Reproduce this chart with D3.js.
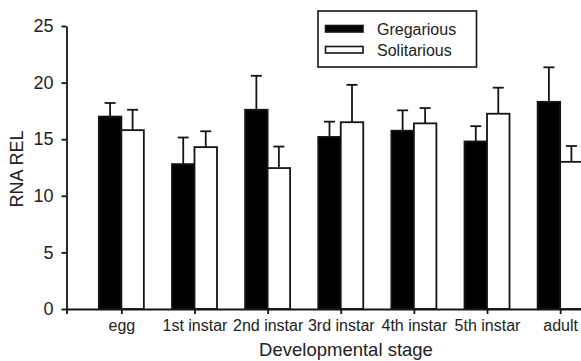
<!DOCTYPE html>
<html>
<head>
<meta charset="utf-8">
<script src="https://cdn.jsdelivr.net/npm/d3@7"></script>
<style>
  html, body { margin: 0; padding: 0; background: #fff; }
  svg { display: block; font-family: "Liberation Sans", Arial, sans-serif; }
</style>
</head>
<body>
<div id="chart"></div>
<script>
const stages = ['egg', '1st instar', '2nd instar', '3rd instar', '4th instar', '5th instar', 'adult'];
const seriesNames = ['Gregarious', 'Solitarious'];
const gregarious = [17.0, 12.8, 17.6, 15.2, 15.75, 14.8, 18.3];
const gregariousErr = [1.2, 2.35, 3.0, 1.35, 1.8, 1.35, 3.05];
const solitarious = [15.8, 14.3, 12.45, 16.5, 16.4, 17.25, 13.0];
const solitariousErr = [1.8, 1.4, 1.9, 3.3, 1.35, 2.3, 1.4];
const yTicks = [0, 5, 10, 15, 20, 25];

const width = 581;
const height = 361;
const ink = '#141414';

const svg = d3.select('#chart')
  .append('svg')
  .attr('width', width)
  .attr('height', height);

const x = d3.scalePoint().domain(stages).range([66.5, 615]).padding(0.75);
const xSub = d3.scaleBand().domain(seriesNames).range([-22.5, 22.5]);
const y = d3.scaleLinear().domain([0, 25]).range([309, 26]);

const rows = [];
stages.forEach((s, i) => {
  rows.push({ stage: s, series: 'Gregarious', value: gregarious[i], err: gregariousErr[i] });
  rows.push({ stage: s, series: 'Solitarious', value: solitarious[i], err: solitariousErr[i] });
});
const fill = d3.scaleOrdinal().domain(seriesNames).range(['#000', '#fff']);

// error bars (up only)
const errG = svg.append('g')
  .attr('stroke', ink)
  .attr('stroke-width', 1.8);

errG.selectAll('line.stem')
  .data(rows)
  .enter()
  .append('line')
  .attr('class', 'stem')
  .attr('x1', (d) => x(d.stage) + xSub(d.series) + xSub.bandwidth() / 2)
  .attr('x2', (d) => x(d.stage) + xSub(d.series) + xSub.bandwidth() / 2)
  .attr('y1', (d) => y(d.value))
  .attr('y2', (d) => y(d.value + d.err));

errG.selectAll('line.cap')
  .data(rows)
  .enter()
  .append('line')
  .attr('class', 'cap')
  .attr('x1', (d) => x(d.stage) + xSub(d.series) + xSub.bandwidth() / 2 - 5.5)
  .attr('x2', (d) => x(d.stage) + xSub(d.series) + xSub.bandwidth() / 2 + 5.5)
  .attr('y1', (d) => y(d.value + d.err))
  .attr('y2', (d) => y(d.value + d.err));

// bars
svg.append('g')
  .selectAll('rect')
  .data(rows)
  .enter()
  .append('rect')
  .attr('x', (d) => x(d.stage) + xSub(d.series))
  .attr('y', (d) => y(d.value))
  .attr('width', xSub.bandwidth())
  .attr('height', (d) => y(0) - y(d.value))
  .style('fill', (d) => fill(d.series))
  .style('stroke', ink)
  .style('stroke-width', '1.8px');

// axes
const yAxis = svg.append('g')
  .attr('transform', 'translate(66.5,0)')
  .call(d3.axisLeft(y).tickValues(yTicks).tickSize(5).tickSizeOuter(0).tickPadding(8));

const xAxis = svg.append('g')
  .attr('transform', `translate(0,${y(0)})`)
  .call(d3.axisBottom(x).tickSize(5).tickSizeOuter(5).tickPadding(6));

[yAxis, xAxis].forEach((ax) => {
  ax.select('.domain').attr('stroke', ink).attr('stroke-width', 1.8);
  ax.selectAll('.tick line').attr('stroke', ink).attr('stroke-width', 1.8);
  ax.selectAll('text').attr('fill', '#222').attr('font-family', '"Liberation Sans", Arial, sans-serif');
});
yAxis.selectAll('text').attr('font-size', '18px');
xAxis.selectAll('text').attr('font-size', '16px');

// axis titles
svg.append('text')
  .attr('transform', 'translate(23,169) rotate(-90)')
  .attr('text-anchor', 'middle')
  .attr('font-size', '18px')
  .attr('fill', '#222')
  .text('RNA REL');

svg.append('text')
  .attr('x', 346)
  .attr('y', 356)
  .attr('text-anchor', 'middle')
  .attr('font-size', '18.5px')
  .attr('fill', '#222')
  .text('Developmental stage');

// legend
const legend = svg.append('g');
legend.append('rect')
  .attr('x', 318)
  .attr('y', 11)
  .attr('width', 158.5)
  .attr('height', 56)
  .style('fill', '#fff')
  .style('stroke', ink)
  .style('stroke-width', '1.6px');

const item = legend.selectAll('g.item')
  .data(seriesNames)
  .enter()
  .append('g')
  .attr('class', 'item')
  .attr('transform', (d, i) => `translate(0,${i * 21})`);

item.append('rect')
  .attr('x', 325.5)
  .attr('y', 25.5)
  .attr('width', 37.5)
  .attr('height', 6.5)
  .style('fill', (d) => fill(d))
  .style('stroke', ink)
  .style('stroke-width', '1.6px');

item.append('text')
  .attr('x', 377)
  .attr('y', 35)
  .attr('font-size', '16px')
  .attr('fill', '#222')
  .text((d) => d);
</script>
</body>
</html>
